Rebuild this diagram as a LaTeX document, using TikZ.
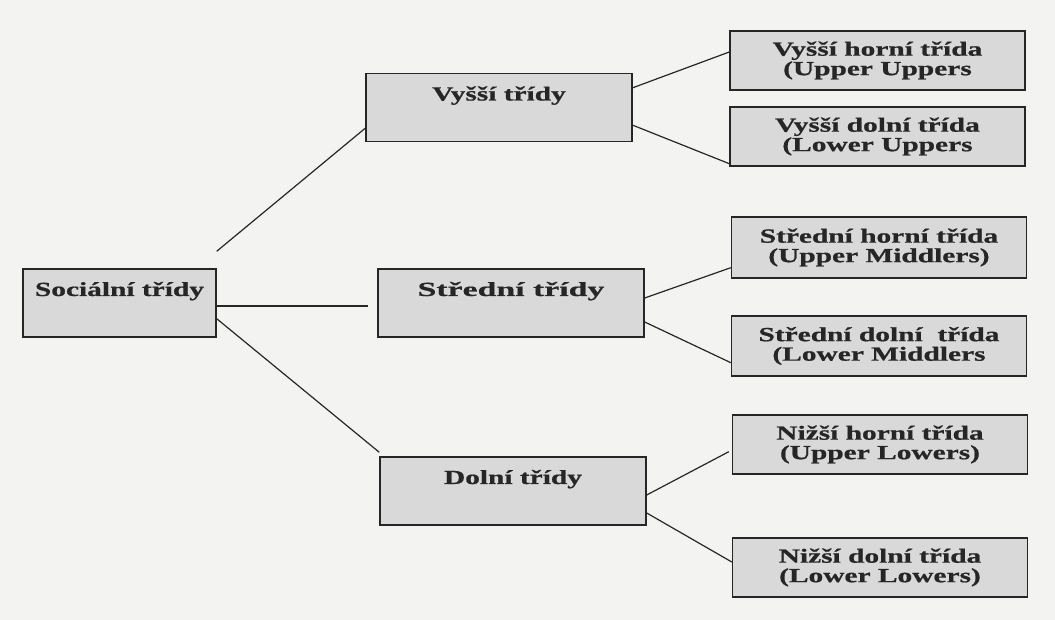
\documentclass[tikz,border=0pt]{standalone}
\usepackage{fontspec}
\setmainfont[FakeStretch=1.47,BoldFeatures={FakeBold=0.8}]{Liberation Serif}
\newfontfamily\widefont[FakeStretch=1.69,BoldFeatures={FakeBold=0.8}]{Liberation Serif}
\definecolor{boxfill}{HTML}{D9D9D9}
\definecolor{paper}{HTML}{F3F3F1}
\definecolor{ink}{HTML}{262626}

\begin{document}
\begin{tikzpicture}[x=1pt,y=1pt,
  classbox/.style={draw=ink,line width=1.4pt,fill=boxfill,text=ink,
    font=\bfseries\fontsize{20}{20}\selectfont,inner sep=0pt,
    text height=27pt,text depth=41pt},
  subbox/.style={draw=ink,line width=1.4pt,fill=boxfill,text=ink,
    font=\bfseries\fontsize{20}{19.5}\selectfont,inner sep=0pt,align=center,
    minimum width=295pt,minimum height=59pt},
  link/.style={draw=ink,line width=1.2pt}]
\fill[paper] (0,0) rectangle (1055,620);
\useasboundingbox (0,0) rectangle (1055,620);

\node[classbox,minimum width=193pt] (soc) at (119.5,317) {Sociální třídy};
\node[classbox,minimum width=266pt] (vys) at (499,512.5) {Vyšší třídy};
\node[classbox,minimum width=266pt] (str) at (511,317) {\widefont Střední třídy};
\node[classbox,minimum width=266pt] (dol) at (513,129) {Dolní třídy};

\node[subbox] (vh) at (877.5,559.5) {Vyšší horní třída\\(Upper Uppers};
\node[subbox] (vd) at (877.5,483.5) {Vyšší dolní třída\\(Lower Uppers};
\node[subbox,minimum height=61pt] (sh) at (879,372.5) {Střední horní třída\\(Upper Middlers)};
\node[subbox,minimum height=60pt] (sd) at (879,274) {Střední dolní~ třída\\(Lower Middlers};
\node[subbox] (nh) at (880,175.5) {Nižší horní třída\\(Upper Lowers)};
\node[subbox] (nd) at (880,52.5) {Nižší dolní třída\\(Lower Lowers)};

\draw[link] ([yshift=17pt]soc.north east) -- ([yshift=14pt]vys.south west);
\draw[link] ([yshift=-3pt]soc.east) -- ([xshift=-9pt,yshift=-3pt]str.west);
\draw[link] ([yshift=19pt]soc.south east) -- ([yshift=4pt]dol.north west);
\draw[link] ([yshift=-15pt]vys.north east) -- ([yshift=8.5pt]vh.west);
\draw[link] ([yshift=17pt]vys.south east) -- ([yshift=3pt]vd.south west);
\draw[link] ([yshift=5pt]str.east) -- ([yshift=11pt]sh.south west);
\draw[link] ([yshift=-19pt]str.east) -- ([yshift=14pt]sd.south west);
\draw[link] ([yshift=-4pt]dol.east) -- ([xshift=-3pt,yshift=23pt]nh.south west);
\draw[link] ([yshift=-22pt]dol.east) -- ([yshift=5.5pt]nd.west);
\end{tikzpicture}
\end{document}
